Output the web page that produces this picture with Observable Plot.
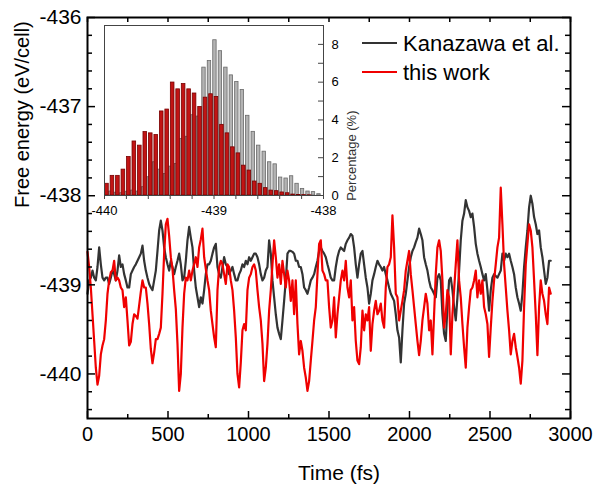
<!DOCTYPE html>
<html><head><meta charset="utf-8">
<script src="https://cdn.jsdelivr.net/npm/d3@7"></script>
<script src="https://cdn.jsdelivr.net/npm/@observablehq/plot@0.6"></script>
<style>
html,body{margin:0;padding:0;background:#fff;}
#wrap{position:relative;width:597px;height:487px;font-family:"Liberation Sans",Arial,sans-serif;}
#wrap svg{position:absolute;}
.sw{position:absolute;height:2px;width:35px;}
.lt{position:absolute;font-size:22px;line-height:29px;color:#000;white-space:nowrap;}
</style></head><body>
<div id="wrap"></div>
<script>
// ---- time series (sampled every timeStepFs femtoseconds) ----
const timeStepFs = 10.35;
const kanazawaEnergy = [
-439.10,-438.95,-438.92,-438.84,-438.92,-438.95,-438.80,-438.58,-438.77,-438.92,
-438.95,-438.92,-438.92,-438.99,-438.92,-438.84,-438.88,-438.95,-438.84,-438.67,
-438.80,-438.77,-438.88,-438.95,-439.03,-439.03,-438.88,-438.84,-438.80,-438.77,
-438.73,-438.69,-438.65,-438.56,-438.73,-438.84,-438.92,-438.99,-439.03,-439.06,
-438.95,-438.84,-438.62,-438.39,-438.28,-438.39,-438.58,-438.69,-438.77,-438.84,
-438.73,-438.80,-438.88,-438.80,-438.73,-438.65,-438.77,-438.95,-438.92,-438.73,
-438.50,-438.35,-438.47,-438.58,-438.84,-439.03,-439.14,-439.25,
-439.14,-439.21,-439.06,-438.88,-438.77,-438.77,-438.73,-438.65,-438.58,-438.54,
-438.80,-438.88,-438.92,-438.80,-438.69,-438.77,-438.80,-438.88,-438.84,-438.80,
-438.88,-438.95,-438.95,-438.88,-438.84,-438.77,-438.80,-438.73,-438.77,-438.69,
-438.73,-438.69,-438.65,-438.65,-438.69,-438.77,-438.88,-438.95,-438.92,-438.84,
-438.80,-438.50,-438.65,-438.95,-439.14,-439.33,-439.48,-439.55,-439.61,-439.40,
-439.18,-438.95,-438.65,-438.62,-438.62,-438.63,-438.65,-438.73,-438.73,-438.80,
-438.80,-438.88,-439.03,-439.06,-439.10,-439.03,-438.95,-438.92,-438.88,-438.80,
-438.73,-438.62,
-438.58,-438.62,-438.65,-438.69,-438.77,-438.84,-438.92,-438.95,-438.95,-438.80,
-438.69,-438.62,-438.58,-438.60,-438.62,-438.54,-438.50,-438.47,-438.43,-438.45,
-438.58,-438.77,-438.92,-438.77,-438.65,-438.62,-438.77,-438.92,-439.03,-439.21,
-439.10,-438.95,-438.88,-438.80,-438.73,-438.77,-438.80,-438.84,-438.80,-438.88,
-438.95,-439.03,-439.10,-439.14,-439.18,-439.33,-439.51,-439.59,-439.87,-439.51,
-439.21,-439.10,-438.95,-438.80,-438.69,-438.62,-438.58,-438.52,-438.47,-438.37,
-438.43,-438.50,-438.69,-438.77,-438.84,-438.95,-439.03,-439.06,-439.10,-439.14,
-438.92,-438.88,
-438.95,-439.33,-439.55,-439.63,-439.25,-438.95,-438.92,-439.06,-439.25,-439.40,
-439.14,-438.84,-438.50,-438.28,-438.20,-438.05,-438.13,-438.17,-438.24,-438.20,
-438.35,-438.54,-438.65,-438.73,-438.80,-438.88,-438.95,-438.88,-439.06,-439.29,
-439.06,-438.92,-438.88,-438.90,-438.92,-438.88,-438.84,-438.65,-438.73,-438.65,
-438.69,-438.65,-438.73,-438.80,-438.88,-439.03,-439.14,-439.21,-439.29,-439.10,
-438.80,-438.58,-438.39,-438.13,-438.00,-438.09,-438.24,-438.32,-438.43,-438.39,
-438.58,-438.69,-438.84,-438.99,-438.92,-438.73,-438.73
];
const thisWorkEnergy = [
-438.63,-438.80,-439.03,-439.33,-439.63,-439.93,-440.12,-440.02,-439.78,-439.68,
-439.61,-439.40,-439.10,-438.95,-438.86,-438.84,-438.73,-438.95,-438.92,-438.95,
-439.03,-439.06,-439.25,-439.14,-439.40,-439.68,-439.64,-439.44,-439.33,-439.35,
-439.38,-439.23,-439.08,-438.95,-439.03,-439.03,-439.21,-439.44,-439.72,-439.88,
-439.76,-439.61,-439.61,-439.55,-439.48,-439.10,-438.65,-438.32,-438.26,-438.45,
-438.69,-438.82,-439.06,-439.27,-439.66,-440.19,-440.00,-439.48,-439.10,-438.92,
-438.95,-438.84,-438.95,-438.84,-438.77,-438.69,-438.80,-438.58,
-438.49,-438.37,-438.69,-438.82,-438.95,-439.06,-439.29,-439.44,-439.59,-439.70,
-439.06,-438.80,-438.73,-438.77,-438.88,-438.99,-438.77,-438.80,-438.95,-439.06,
-439.29,-439.59,-440.00,-440.15,-439.87,-439.51,-439.44,-439.51,-439.06,-438.92,
-438.88,-438.80,-438.77,-438.84,-439.06,-439.25,-439.40,-439.66,-440.08,-439.93,
-439.66,-439.29,-439.06,-438.77,-438.50,-438.69,-438.92,-438.77,-438.99,-438.73,
-438.88,-439.03,-438.84,-438.95,-439.18,-438.95,-439.33,-438.95,-439.44,-439.78,
-439.63,-439.74,-439.93,-440.04,-440.19,-440.08,-439.85,-439.63,-439.40,-439.25,
-438.88,-438.54,
-438.50,-438.84,-438.88,-438.95,-438.95,-439.25,-439.48,-439.40,-439.14,-439.59,
-439.33,-439.14,-438.95,-438.84,-438.95,-438.73,-439.03,-439.14,-438.95,-439.40,
-439.25,-439.63,-439.85,-439.89,-439.70,-439.29,-439.51,-439.33,-439.40,-439.25,
-439.74,-439.44,-439.29,-439.18,-439.33,-439.29,-439.21,-439.40,-439.48,-439.03,
-438.80,-438.77,-438.69,-438.22,-438.58,-439.10,-439.14,-439.40,-439.29,-439.18,
-439.06,-438.84,-438.73,-438.62,-438.88,-439.06,-439.25,-439.44,-439.63,-439.79,
-439.63,-439.40,-439.25,-439.10,-439.21,-439.51,-439.40,-439.78,-439.33,-438.88,
-438.58,-438.50,
-438.62,-438.95,-439.48,-439.33,-439.06,-439.14,-439.78,-439.33,-439.06,-438.77,
-438.50,-438.95,-439.14,-439.44,-439.70,-439.93,-439.48,-439.25,-439.06,-439.03,
-438.95,-438.84,-439.14,-438.95,-439.10,-438.95,-439.25,-439.33,-439.44,-439.81,
-439.48,-439.18,-438.95,-438.77,-438.58,-438.47,-437.91,-438.32,-438.77,-439.03,
-439.29,-439.51,-439.78,-439.63,-439.55,-439.70,-439.81,-439.93,-440.11,-439.85,
-439.25,-438.77,-438.54,-438.32,-438.39,-438.58,-438.95,-439.33,-439.79,-439.25,
-438.95,-439.10,-439.18,-439.33,-439.44,-439.03,-439.10
];

// ---- inset histogram: 0.05 eV bins starting at -440 ----
const binStartEnergy = -440;
const binWidthEnergy = 0.05;
const thisWorkPercent = [
0.62,1.04,1.04,1.37,2.04,2.86,2.64,3.36,3.29,3.20,
4.45,4.55,5.98,5.62,5.90,5.62,5.40,4.69,5.18,5.36,
5.22,3.74,3.29,2.55,2.23,1.58,1.32,0.74,0.62,0.39,
0.26,0.23,0.16,0.12,0.05,0.03,0.02,0.01,0,0
];
const kanazawaPercent = [
0.05,0.21,0.15,0.12,0.20,0.26,0.21,0.44,0.97,1.76,
1.37,1.14,1.53,1.67,2.99,3.11,4.25,4.18,6.77,7.12,
8.22,7.64,6.77,6.36,6.01,5.59,4.22,3.37,2.64,2.32,
1.76,1.65,0.95,0.90,1.02,0.62,0.35,0.21,0.18,0.07
];

// ---- axes ----
const timeTicks = [0, 500, 1000, 1500, 2000, 2500, 3000];
const timeMinorTicks = [250, 750, 1250, 1750, 2250, 2750];
const energyTicks = [-440, -439, -438, -437, -436];
const energyMinorTicks = [-440.4,-440.2,-439.8,-439.6,-439.4,-439.2,-438.8,-438.6,-438.4,-438.2,-437.8,-437.6,-437.4,-437.2,-436.8,-436.6,-436.4,-436.2];
const insetEnergyLabels = [-440, -439, -438];
const insetEnergyTicks = [-440,-439.8,-439.6,-439.4,-439.2,-439,-438.8,-438.6,-438.4,-438.2,-438];
const insetPercentLabels = [0, 2, 4, 6, 8];
const insetPercentTicks = [0,1,2,3,4,5,6,7,8];
const seriesNames = ["Kanazawa et al.", "this work"];
const seriesColors = ["#333333", "#f00000"];

const FONT = '"Liberation Sans", Arial, sans-serif';
const W = 597, H = 487, mL = 87, mR = 27, mT = 17, mB = 69;
const fW = W - mL - mR, fH = H - mT - mB;

const kData = kanazawaEnergy.map((e, i) => ({t: i * timeStepFs, e}));
const rData = thisWorkEnergy.map((e, i) => ({t: i * timeStepFs, e}));
const fmt = d => String(d);

const main = Plot.plot({
  width: W, height: H,
  marginLeft: mL, marginRight: mR, marginTop: mT, marginBottom: mB,
  x: {domain: [0, 3000]},
  y: {domain: [-440.5, -436]},
  style: {fontFamily: FONT, background: "#fff", overflow: "visible"},
  marks: [
    Plot.line(kData, {x: "t", y: "e", stroke: seriesColors[0], strokeWidth: 2.2}),
    Plot.line(rData, {x: "t", y: "e", stroke: seriesColors[1], strokeWidth: 2.2}),
    Plot.ruleX(timeTicks, {insetTop: fH - 7, stroke: "#000", strokeWidth: 1.5}),
    Plot.ruleX(timeMinorTicks, {insetTop: fH - 4, stroke: "#000", strokeWidth: 1.5}),
    Plot.ruleX(timeTicks.concat(timeMinorTicks), {insetBottom: fH - 5, stroke: "#000", strokeWidth: 1.5}),
    Plot.ruleY(energyTicks, {insetRight: fW - 8, stroke: "#000", strokeWidth: 1.5}),
    Plot.ruleY(energyMinorTicks, {insetRight: fW - 5, stroke: "#000", strokeWidth: 1.5}),
    Plot.ruleY(energyTicks, {insetLeft: fW - 8, stroke: "#000", strokeWidth: 1.5}),
    Plot.ruleY(energyMinorTicks, {insetLeft: fW - 5, stroke: "#000", strokeWidth: 1.5}),
    Plot.frame({stroke: "#000", strokeWidth: 2}),
    Plot.axisX(timeTicks, {tickSize: 0, tickPadding: 8, fontSize: 20, tickFormat: fmt, label: null}),
    Plot.axisY(energyTicks, {tickSize: 0, tickPadding: 6, fontSize: 21, tickFormat: fmt, label: null}),
    Plot.text(["Time (fs)"], {text: d => d, frameAnchor: "bottom", dy: 55, dx: 10, fontSize: 21, lineAnchor: "middle"}),
    Plot.text(["Free energy (eV/cell)"], {text: d => d, frameAnchor: "left", rotate: -90, dx: -65, dy: -10, fontSize: 20})
  ]
});
const wrap = document.getElementById("wrap");
main.style.left = "0px"; main.style.top = "0px";
wrap.appendChild(main);

// ---- inset ----
const iW = 270, iH = 208, imL = 10, imT = 5, imR = 41, imB = 33;
const ifW = iW - imL - imR, ifH = iH - imT - imB;
const bins = thisWorkPercent.map((p, i) => ({
  lo: binStartEnergy + binWidthEnergy * i, red: p, grey: kanazawaPercent[i]
}));
const inset = Plot.plot({
  width: iW, height: iH,
  marginLeft: imL, marginRight: imR, marginTop: imT, marginBottom: imB,
  x: {domain: [-440, -438]},
  y: {domain: [0, 9]},
  style: {fontFamily: FONT, background: "transparent", overflow: "visible"},
  marks: [
    Plot.frame({fill: "#fff", stroke: null}),
    Plot.rectY(bins, {x1: d => d.lo - 0.007, x2: d => d.lo + 0.024, y: "grey", fill: "#b3b3b3", stroke: "#6a6a6a", strokeWidth: 0.8, clip: true}),
    Plot.rectY(bins, {x1: d => d.lo + 0.006, x2: d => d.lo + 0.039, y: "red", fill: "#c21414", stroke: "#780000", strokeWidth: 0.8, clip: true}),
    Plot.ruleY(insetPercentTicks, {insetLeft: ifW - 5, stroke: "#444", strokeWidth: 1}),
    Plot.frame({stroke: "#444", strokeWidth: 1}),
    Plot.axisX(insetEnergyTicks, {tickSize: 4, tickFormat: () => "", stroke: "#444", label: null}),
    Plot.axisX(insetEnergyLabels, {tickSize: 0, tickPadding: 10, fontSize: 13, tickFormat: fmt, label: null}),
    Plot.axisY(insetPercentLabels, {anchor: "right", tickSize: 0, tickPadding: 8, fontSize: 13, tickFormat: fmt, label: null}),
    Plot.text(["Percentage (%)"], {text: d => d, frameAnchor: "right", rotate: -90, dx: 28, fontSize: 13, fill: "#333"})
  ]
});
inset.style.left = "94px"; inset.style.top = "20px";
wrap.appendChild(inset);

// ---- legend ----
const legendRows = [{y: 43}, {y: 72}];
seriesNames.forEach((name, i) => {
  const sw = document.createElement("div");
  sw.className = "sw";
  sw.style.background = seriesColors[i];
  sw.style.left = "362px";
  sw.style.top = (legendRows[i].y - 1) + "px";
  wrap.appendChild(sw);
  const tx = document.createElement("div");
  tx.className = "lt";
  tx.textContent = name;
  tx.style.left = "403px";
  tx.style.top = (legendRows[i].y - 14.2) + "px";
  wrap.appendChild(tx);
});
</script>
</body></html>
